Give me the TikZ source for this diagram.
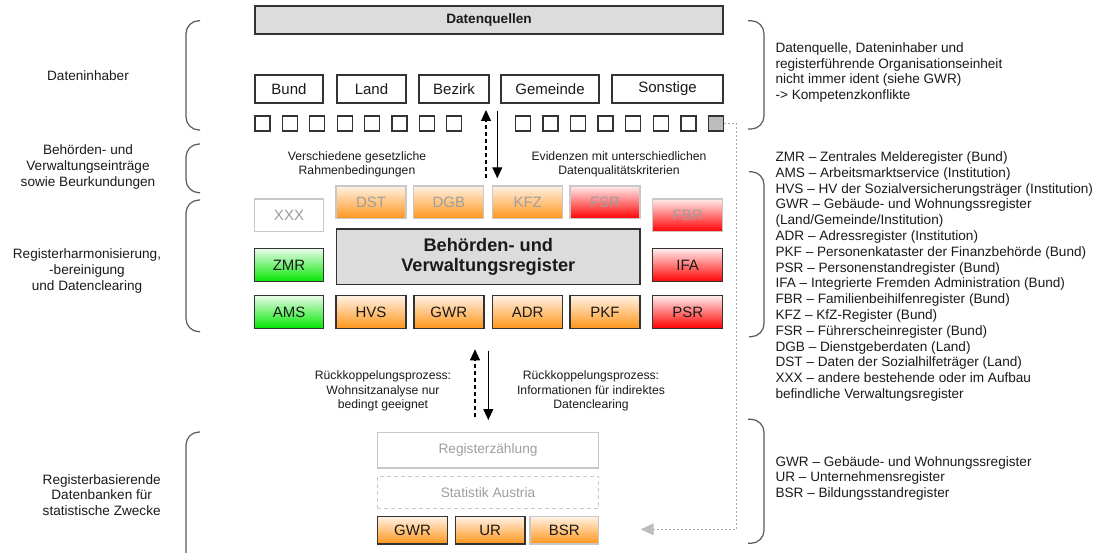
\documentclass[tikz,border=0pt]{standalone}
\usepackage{fontspec}
\setmainfont{Liberation Sans}
\usetikzlibrary{arrows.meta,positioning}
\definecolor{txtdark}{HTML}{1A1A1A}
\definecolor{boxline}{HTML}{333333}
\definecolor{fadeline}{HTML}{C8C8C8}
\definecolor{fadetxt}{HTML}{9E9E9E}
\definecolor{brline}{HTML}{5A5A5A}
\definecolor{headgray}{HTML}{DCDCDC}
\definecolor{sqgray}{HTML}{BDBDBD}
\definecolor{backline}{HTML}{ABABAB}
\definecolor{ogtop}{HTML}{FFF1E4}
\definecolor{ogbot}{HTML}{FF961A}
\definecolor{grtop}{HTML}{E9FCE9}
\definecolor{grbot}{HTML}{00E600}
\definecolor{rdtop}{HTML}{FFECEC}
\definecolor{rdbot}{HTML}{FF0000}

\begin{document}
\begin{tikzpicture}[x=1pt,y=-1pt,
  every node/.style={text=txtdark},
  lab/.style={align=center,font=\fontsize{13.6}{15.8}\selectfont},
  note/.style={align=left,anchor=west,font=\fontsize{13.6}{15.8}\selectfont},
  small/.style={align=center,font=\fontsize{12.2}{14.6}\selectfont},
  plainbox/.style={draw=boxline,line width=1.3pt,fill=white,inner sep=0pt,
    minimum height=28pt,font=\fontsize{15}{17}\selectfont},
  reg/.style={draw=boxline,line width=1.4pt,inner sep=0pt,minimum width=70pt,
    minimum height=32.6pt,font=\fontsize{15}{17}\selectfont},
  regO/.style={reg,top color=ogtop,bottom color=ogbot},
  regG/.style={reg,top color=grtop,bottom color=grbot},
  regR/.style={reg,top color=rdtop,bottom color=rdbot},
  faded/.style={draw=fadeline,line width=1.1pt,text=fadetxt},
  sq/.style={draw=boxline,line width=1.3pt,minimum size=15pt,inner sep=0pt},
  bracket/.style={draw=brline,line width=1.2pt,rounded corners=13pt},
  arr/.style={-{Triangle[length=11pt,width=10pt]},line width=1.1pt},
  dash4/.style={dash pattern=on 4pt off 3pt},
  fback/.style={draw=backline,line width=1pt,dash pattern=on 2pt off 2pt,
    -{Triangle[length=13pt,width=12pt,color=sqgray,fill=sqgray]}}]
  \useasboundingbox (0,0) rectangle (1095,553);

  % Datenquellen
  \node (dq) [draw=boxline,line width=1.2pt,fill=headgray,minimum width=468pt,
    minimum height=28pt,inner sep=0pt,font=\bfseries\fontsize{13.6}{16}\selectfont]
    at (489,20) {Datenquellen};
  \node (bund) [plainbox,minimum width=68pt] at (289,89) {Bund};
  \node (land) [plainbox,minimum width=69pt] at (371.5,89) {Land};
  \node (bezirk) [plainbox,minimum width=70pt] at (454,89) {Bezirk};
  \node (gem) [plainbox,minimum width=98pt] at (550,89) {Gemeinde};
  \node (sonst) [plainbox,minimum width=111pt] at (667.5,89) {Sonstige};

  \foreach \i in {0,...,7}
    \node (sl\i) [sq] at ({262.5+27.4*\i},123.5) {};
  \foreach \i in {0,...,6}
    \node (sr\i) [sq] at ({522.8+27.6*\i},123.5) {};
  \node (sr7) [sq,fill=sqgray] at (716,123.5) {};

  \node (rahmen) [small] at (357,164.5) {Verschiedene gesetzliche\\Rahmenbedingungen};
  \node (evid) [small] at (619,164.5) {Evidenzen mit unterschiedlichen\\Datenqualitätskriterien};

  \coordinate (upAs) at (486,178);
  \coordinate (upAe) at (486,110);
  \coordinate (dnAs) at (497.3,111);
  \coordinate (dnAe) at (497.3,178.3);
  \draw[arr,dash4] (upAs) -- (upAe);
  \draw[arr] (dnAs) -- (dnAe);

  % Behoerden- und Verwaltungsregister
  \node (dst) [regO,faded] at (371,202.3) {DST};
  \node (dgb) [regO,faded] at (448.8,202.3) {DGB};
  \node (kfz) [regO,faded] at (527.7,202.3) {KFZ};
  \node (fsr) [regR,faded] at (605,202.3) {FSR};
  \node (xxx) [reg,faded,fill=white,minimum width=68.6pt] at (289,215.3) {XXX};
  \node (fbr) [regR,faded] at (687.7,215.3) {FBR};
  \node (bvr) [draw=boxline,line width=1.4pt,fill=headgray,minimum width=303.3pt,
    minimum height=55.3pt,inner sep=0pt,align=center,
    font=\bfseries\fontsize{18.2}{20.7}\selectfont] at (488.3,256.7)
    {Behörden- und\\Verwaltungsregister};
  \node (zmr) [regG,minimum width=68.6pt,minimum height=33pt] at (289,265.2) {ZMR};
  \node (ifa) [regR,minimum height=33pt] at (687.7,265.2) {IFA};
  \node (ams) [regG,minimum width=68.6pt] at (289,312) {AMS};
  \node (hvs) [regO] at (371,312) {HVS};
  \node (gwr) [regO] at (448.8,312) {GWR};
  \node (adr) [regO] at (527.7,312) {ADR};
  \node (pkf) [regO] at (605,312) {PKF};
  \node (psr) [regR] at (687.7,312) {PSR};

  \coordinate (upBs) at (475,417);
  \coordinate (upBe) at (475,349.3);
  \coordinate (dnBs) at (488.3,350.7);
  \coordinate (dnBe) at (488.3,420);
  \draw[arr,dash4] (upBs) -- (upBe);
  \draw[arr] (dnBs) -- (dnBe);
  \node (rk1) [small] at (383,391) {Rückkoppelungsprozess:\\Wohnsitzanalyse nur\\bedingt geeignet};
  \node (rk2) [small] at (591,391) {Rückkoppelungsprozess:\\Informationen für indirektes\\Datenclearing};

  % Statistik
  \node (rz) [draw=fadeline,line width=1.2pt,text=fadetxt,minimum width=221.4pt,
    minimum height=35.3pt,inner sep=0pt,font=\fontsize{13.7}{16}\selectfont]
    at (488,450.3) {Registerzählung};
  \node (stat) [below=7.3pt of rz,draw=fadeline,dash4,line width=1.2pt,text=fadetxt,
    minimum width=221.4pt,minimum height=32.4pt,inner sep=0pt,
    font=\fontsize{13.7}{16}\selectfont] {Statistik Austria};
  \node (gwr2) [regO,minimum width=70.4pt,minimum height=27.3pt] at (412.5,530.3) {GWR};
  \node (ur) [regO,minimum width=69.7pt,minimum height=27.3pt] at (490.2,530.3) {UR};
  \node (bsr) [regO,draw=fadeline,minimum width=68.7pt,minimum height=27.3pt] at (564.3,530.3) {BSR};

  \coordinate (fbend) at (640.7,529.3);
  \draw[fback] (sr7.east) -- (736.7,123.5) |- (fbend);

  % Klammern
  \draw[bracket] (200,20.7) -- (186,20.7) -- (186,130) -- (200,130);
  \draw[bracket] (200,144) -- (186,144) -- (186,192.7) -- (200,192.7);
  \draw[bracket] (200,200) -- (186,200) -- (186,331.7) -- (200,331.7);
  \draw[bracket] (200,432) -- (186,432) -- (186,570) -- (200,570);
  \draw[bracket] (748,20.7) -- (764,20.7) -- (764,129) -- (748,129);
  \draw[bracket] (749,171.7) -- (764,171.7) -- (764,336.7) -- (749,336.7);
  \draw[bracket] (748,419.3) -- (764,419.3) -- (764,543.3) -- (748,543.3);

  % Beschriftung links
  \node (l1) [lab] at (88,76) {Dateninhaber};
  \node (l2) [lab] at (88,167) {Behörden- und\\Verwaltungseinträge\\sowie Beurkundungen};
  \node (l3) [lab] at (87,271) {Registerharmonisierung,\\-bereinigung\\und Datenclearing};
  \node (l4) [lab] at (101.7,495) {Registerbasierende\\Datenbanken für\\statistische Zwecke};

  % Beschriftung rechts
  \node (r1) [note] at (772,72.5) {Datenquelle, Dateninhaber und\\registerführende Organisationseinheit\\nicht immer ident (siehe GWR)\\-> Kompetenzkonflikte};
  \node (r2) [note] at (772,276.5) {ZMR -- Zentrales Melderegister (Bund)\\
    AMS -- Arbeitsmarktservice (Institution)\\
    HVS -- HV der Sozialversicherungsträger (Institution)\\
    GWR -- Gebäude- und Wohnungssregister\\
    (Land/Gemeinde/Institution)\\
    ADR -- Adressregister (Institution)\\
    PKF -- Personenkataster der Finanzbehörde (Bund)\\
    PSR -- Personenstandregister (Bund)\\
    IFA -- Integrierte Fremden Administration (Bund)\\
    FBR -- Familienbeihilfenregister (Bund)\\
    KFZ -- KfZ-Register (Bund)\\
    FSR -- Führerscheinregister (Bund)\\
    DGB -- Dienstgeberdaten (Land)\\
    DST -- Daten der Sozialhilfeträger (Land)\\
    XXX -- andere bestehende oder im Aufbau\\
    befindliche Verwaltungsregister};
  \node (r3) [note] at (772,478.3) {GWR -- Gebäude- und Wohnungssregister\\UR -- Unternehmensregister\\BSR -- Bildungsstandregister};
\end{tikzpicture}
\end{document}
